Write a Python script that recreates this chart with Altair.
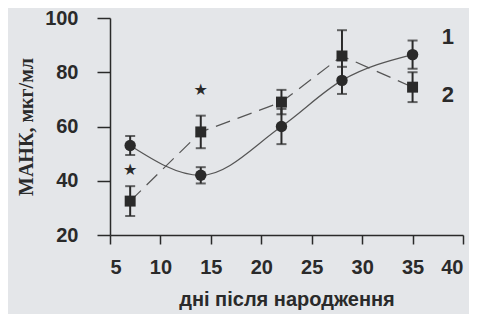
import altair as alt
import pandas as pd

days = [7, 14, 22, 28, 35]
mean1 = [53, 42, 60, 77, 86.5]
err1 = [3.5, 3, 6.5, 5, 5.2]
mean2 = [32.5, 58, 69, 86, 74.5]
err2 = [5.5, 6, 4.5, 9.5, 5.5]

star_x = [7, 14]
star_y = [44, 73.5]

lab_x = [38.5, 38.5]
lab_y = [93, 71.5]
lab_t = ["1", "2"]

x_ticks = [5, 10, 15, 20, 25, 30, 35, 40]
y_ticks = [20, 40, 60, 80, 100]

INK = "#2a2a2a"

rows = []
for d, m, e in zip(days, mean1, err1):
    rows.append({"day": d, "v": m, "lo": m - e, "hi": m + e, "s": "1"})
for d, m, e in zip(days, mean2, err2):
    rows.append({"day": d, "v": m, "lo": m - e, "hi": m + e, "s": "2"})
df = pd.DataFrame(rows)
d1 = df[df.s == "1"]
d2 = df[df.s == "2"]

stars = pd.DataFrame({"x": star_x, "y": star_y})
labs = pd.DataFrame({"x": lab_x, "y": lab_y, "t": lab_t})

xs = alt.Scale(domain=[5, 40], nice=False)
ys = alt.Scale(domain=[20, 100], nice=False)

X = alt.X("day:Q", scale=xs, axis=alt.Axis(
    values=x_ticks, title="дні після народження", grid=False,
    tickSize=9, labelPadding=13, titlePadding=12,
    labelFontSize=20, labelFont="Liberation Sans", labelFontWeight="bold",
    titleFontSize=20, titleFont="Liberation Sans", titleFontWeight="bold",
    domainColor=INK, tickColor=INK, labelColor=INK, titleColor=INK,
    domainWidth=1.5, tickWidth=1.5))
Y = alt.Y("v:Q", scale=ys, axis=alt.Axis(
    values=y_ticks, title="МАНК, мкг/мл", grid=False,
    tickSize=13, labelPadding=19, titlePadding=8,
    labelFontSize=20, labelFont="Liberation Sans", labelFontWeight="bold",
    titleFontSize=20, titleFont="Liberation Serif", titleFontWeight="bold",
    domainColor=INK, tickColor=INK, labelColor=INK, titleColor=INK,
    domainWidth=1.5, tickWidth=1.5))

line1 = alt.Chart(d1).mark_line(color="#555555", strokeWidth=1.2, interpolate="monotone").encode(x=X, y=Y)
line2 = alt.Chart(d2).mark_line(color="#555555", strokeWidth=1.2, strokeDash=[15, 8], interpolate="linear").encode(x=X, y=Y)

bars = alt.Chart(df).mark_rule(color=INK, strokeWidth=2).encode(
    x=alt.X("day:Q", scale=xs), y=alt.Y("lo:Q", scale=ys), y2="hi:Q")
cap_lo = alt.Chart(df).mark_tick(color=INK, orient="horizontal", size=10, thickness=2).encode(
    x=alt.X("day:Q", scale=xs), y=alt.Y("lo:Q", scale=ys))
cap_hi = alt.Chart(df).mark_tick(color=INK, orient="horizontal", size=10, thickness=2).encode(
    x=alt.X("day:Q", scale=xs), y=alt.Y("hi:Q", scale=ys))

pts1 = alt.Chart(d1).mark_point(shape="circle", filled=True, size=130, color=INK, opacity=1).encode(x=X, y=Y)
pts2 = alt.Chart(d2).mark_point(shape="square", filled=True, size=120, color=INK, opacity=1).encode(x=X, y=Y)

star_m = alt.Chart(stars).mark_text(text="★", fontSize=16, color=INK, font="DejaVu Sans").encode(
    x=alt.X("x:Q", scale=xs), y=alt.Y("y:Q", scale=ys))
lab_m = alt.Chart(labs).mark_text(fontSize=22, fontWeight="bold", font="Liberation Sans", color=INK).encode(
    x=alt.X("x:Q", scale=xs), y=alt.Y("y:Q", scale=ys), text="t:N")

chart = alt.layer(line1, line2, bars, cap_lo, cap_hi, pts1, pts2, star_m, lab_m).properties(
    width=353, height=217,
    autosize=alt.AutoSizeParams(type="none"),
    padding={"left": 102, "top": 10, "right": 6, "bottom": 79},
    background="#e4e6e9",
).configure_view(stroke=None)

chart.save("out.html", embed_options={"renderer": "svg", "actions": False})
